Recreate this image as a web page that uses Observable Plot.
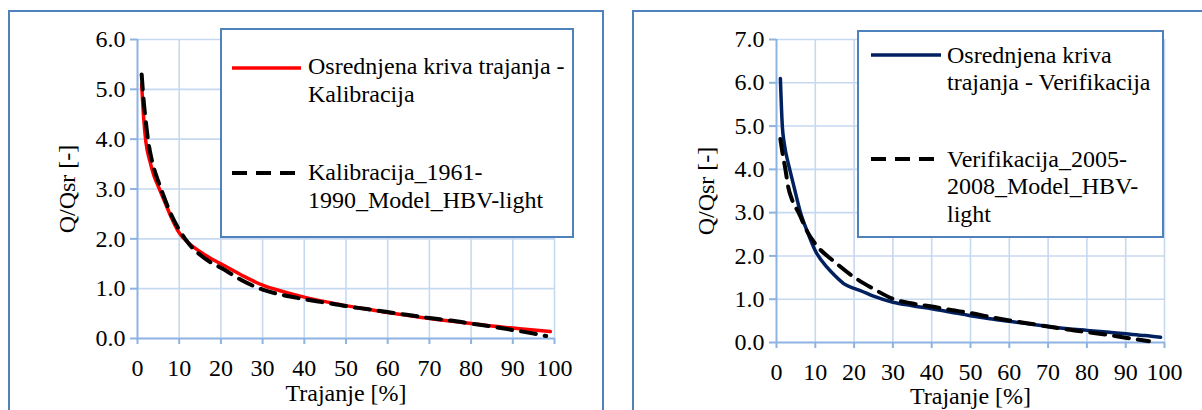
<!DOCTYPE html>
<html>
<head>
<meta charset="utf-8">
<script src="https://cdn.jsdelivr.net/npm/d3@7"></script>
<script src="https://cdn.jsdelivr.net/npm/@observablehq/plot@0.6"></script>
<style>
  html, body { margin: 0; padding: 0; background: #fff; }
  #root { position: relative; width: 1202px; height: 410px; overflow: hidden; background: #fff;
          font-family: 'Liberation Serif', 'Times New Roman', 'Tinos', 'DejaVu Serif', serif; color: #000; }
  .frame { position: absolute; border: 2px solid #4f81bd; box-sizing: border-box; }
  .plot { position: absolute; }
  .legend { position: absolute; border: 2px solid #4f81bd; background: #fff; box-sizing: border-box; }
  .ltext { position: absolute; font-size: 24px; line-height: 27.7px; white-space: nowrap; }
  .lsym { position: absolute; overflow: visible; }
  svg.plot text { font-family: 'Liberation Serif', 'Times New Roman', 'Tinos', 'DejaVu Serif', serif; }
</style>
</head>
<body>
<div id="root"></div>
<script>
// ---------- data ----------
const xTicks = [0, 10, 20, 30, 40, 50, 60, 70, 80, 90, 100];
const yTicksCal = [0, 1, 2, 3, 4, 5, 6];
const yTicksVer = [0, 1, 2, 3, 4, 5, 6, 7];
const xLabel = "Trajanje [%]";
const yLabel = "Q/Qsr [-]";

// Kalibracija: averaged duration curve (red)
const durCalAvg = [1, 1.5, 2, 3, 4, 5, 6.5, 8, 10, 12.5, 15, 17.5, 20, 25, 30, 35, 40, 45, 50, 55, 60, 65, 70, 75, 80, 85, 90, 95, 99];
const qCalAvg   = [5.1, 4.4, 3.95, 3.55, 3.25, 3.05, 2.75, 2.45, 2.12, 1.9, 1.74, 1.61, 1.5, 1.27, 1.07, 0.94, 0.83, 0.74, 0.66, 0.59, 0.52, 0.46, 0.40, 0.35, 0.30, 0.25, 0.21, 0.17, 0.14];
// Kalibracija 1961-1990 model HBV-light (dashed)
const durCalMod = [1, 1.5, 2, 2.5, 3, 4, 5, 6, 8, 10, 12.5, 15, 17.5, 20, 25, 30, 35, 40, 45, 50, 55, 60, 65, 70, 75, 80, 85, 90, 95, 98];
const qCalMod   = [5.3, 4.75, 4.35, 4.0, 3.75, 3.4, 3.15, 2.92, 2.5, 2.18, 1.88, 1.68, 1.53, 1.42, 1.17, 0.98, 0.87, 0.79, 0.72, 0.65, 0.59, 0.53, 0.47, 0.41, 0.36, 0.30, 0.24, 0.17, 0.10, 0.05];

// Verifikacija: averaged duration curve (navy)
const durVerAvg = [1, 1.5, 2, 3, 3.4, 4.5, 6.2, 8, 10, 13, 15, 17.3, 20, 21.6, 25, 30, 35, 40, 45, 50, 55, 60, 65, 70, 75, 80, 85, 90, 95, 99];
const qVerAvg   = [6.1, 5.0, 4.6, 4.15, 4.0, 3.6, 3.0, 2.55, 2.12, 1.74, 1.55, 1.36, 1.25, 1.2, 1.07, 0.93, 0.85, 0.78, 0.70, 0.62, 0.55, 0.49, 0.43, 0.37, 0.32, 0.28, 0.24, 0.20, 0.16, 0.12];
// Verifikacija 2005-2008 model HBV-light (dashed)
const durVerMod = [1, 1.5, 2.3, 3, 4, 5.7, 8, 10, 15, 20, 25, 30, 35, 40, 45, 50, 55, 60, 65, 70, 75, 80, 85, 90, 96];
const qVerMod   = [4.7, 4.4, 4.0, 3.6, 3.3, 3.0, 2.55, 2.28, 1.86, 1.51, 1.24, 1.01, 0.9, 0.83, 0.75, 0.68, 0.59, 0.51, 0.44, 0.37, 0.30, 0.24, 0.18, 0.11, 0.03];

const legendCal = [
  {label: ["Osrednjena kriva trajanja -", "Kalibracija"], color: "#ff0000", dash: null},
  {label: ["Kalibracija_1961-", "1990_Model_HBV-light"], color: "#000000", dash: "15,9"}
];
const legendVer = [
  {label: ["Osrednjena kriva", "trajanja - Verifikacija"], color: "#002060", dash: null},
  {label: ["Verifikacija_2005-", "2008_Model_HBV-", "light"], color: "#000000", dash: "15,9"}
];

// ---------- styles ----------
const gridColor = "#c6d9f1";
const axisColor = "#8db3e2";
const fontFam = "'Liberation Serif', 'Times New Roman', 'Tinos', 'DejaVu Serif', serif";

const root = document.getElementById("root");

function addDiv(cls, css) {
  const d = document.createElement("div");
  d.className = cls;
  Object.assign(d.style, css);
  root.appendChild(d);
  return d;
}

function makeChart({left, top, width, height, ml, mr, mt, mb, yTicks, series, xLabelDy}) {
  const yMax = yTicks[yTicks.length - 1];
  const marks = [
    Plot.ruleX(xTicks.slice(1), {stroke: gridColor, strokeWidth: 1.6}),
    Plot.ruleY(yTicks.slice(1), {stroke: gridColor, strokeWidth: 1.6}),
    Plot.ruleX([0], {stroke: axisColor, strokeWidth: 2}),
    Plot.ruleY([0], {stroke: axisColor, strokeWidth: 2}),
    Plot.axisX({ticks: xTicks, tickSize: 6, tickPadding: 14, stroke: axisColor, strokeWidth: 2, fill: "#000", tickFormat: d => String(d), label: null}),
    Plot.axisY({ticks: yTicks, tickSize: 7, tickPadding: 5, stroke: axisColor, strokeWidth: 2, fill: "#000", tickFormat: d => d.toFixed(1), label: null}),
    Plot.text([xLabel], {frameAnchor: "bottom", dy: xLabelDy, lineAnchor: "middle", textAnchor: "middle", fill: "#000"}),
    Plot.text([yLabel], {frameAnchor: "left", dx: -70, rotate: -90, lineAnchor: "middle", textAnchor: "middle", fill: "#000"})
  ];
  for (const s of series) {
    const data = s.x.map((x, i) => ({x, y: s.y[i]}));
    marks.push(Plot.line(data, {x: "x", y: "y", stroke: s.color, strokeWidth: s.width,
      strokeDasharray: s.dash || undefined, curve: "monotone-x"}));
  }
  const chart = Plot.plot({
    width, height,
    marginLeft: ml, marginRight: mr, marginTop: mt, marginBottom: mb,
    x: {domain: [0, 100], axis: null},
    y: {domain: [0, yMax], axis: null},
    style: {fontFamily: fontFam, fontSize: "24px", background: "transparent", overflow: "visible"},
    marks
  });
  chart.classList.add("plot");
  chart.style.left = left + "px";
  chart.style.top = top + "px";
  root.appendChild(chart);
}

function makeLegend({box, entries}) {
  addDiv("legend", {left: box.left + "px", top: box.top + "px", width: box.width + "px", height: box.height + "px"});
  for (const e of entries) {
    const ns = "http://www.w3.org/2000/svg";
    const svg = document.createElementNS(ns, "svg");
    svg.setAttribute("class", "lsym");
    svg.setAttribute("width", e.x2 - e.x1);
    svg.setAttribute("height", 10);
    svg.style.left = e.x1 + "px";
    svg.style.top = (e.y - 5) + "px";
    const ln = document.createElementNS(ns, "line");
    ln.setAttribute("x1", 0); ln.setAttribute("x2", e.x2 - e.x1);
    ln.setAttribute("y1", 5); ln.setAttribute("y2", 5);
    ln.setAttribute("stroke", e.item.color);
    ln.setAttribute("stroke-width", e.item.dash ? 4 : 3.5);
    if (e.item.dash) ln.setAttribute("stroke-dasharray", e.item.dash);
    svg.appendChild(ln);
    root.appendChild(svg);
    const t = addDiv("ltext", {left: e.tx + "px", top: e.ty + "px"});
    t.innerHTML = e.item.label.map(s => s.replace(/&/g, "&amp;").replace(/</g, "&lt;")).join("<br>");
  }
}

// frames
addDiv("frame", {left: "8px", top: "10px", width: "596px", height: "420px"});
addDiv("frame", {left: "632px", top: "10px", width: "600px", height: "420px"});

// left chart (Kalibracija)
makeChart({
  left: 8, top: 10, width: 595, height: 400, ml: 129, mr: 49, mt: 29, mb: 72,
  yTicks: yTicksCal, xLabelDy: 55,
  series: [
    {x: durCalAvg, y: qCalAvg, color: "#ff0000", width: 3.5},
    {x: durCalMod, y: qCalMod, color: "#000000", width: 4, dash: "15,9"}
  ]
});
// right chart (Verifikacija)
makeChart({
  left: 633, top: 10, width: 569, height: 400, ml: 143, mr: 38, mt: 29, mb: 68,
  yTicks: yTicksVer, xLabelDy: 54,
  series: [
    {x: durVerAvg, y: qVerAvg, color: "#002060", width: 3.5},
    {x: durVerMod, y: qVerMod, color: "#000000", width: 4, dash: "15,9"}
  ]
});

makeLegend({
  box: {left: 220, top: 28, width: 354, height: 210},
  entries: [
    {item: legendCal[0], x1: 232, x2: 301, y: 68, tx: 308, ty: 53},
    {item: legendCal[1], x1: 232, x2: 301, y: 173, tx: 308, ty: 159}
  ]
});
makeLegend({
  box: {left: 857, top: 30, width: 307, height: 208},
  entries: [
    {item: legendVer[0], x1: 871, x2: 941, y: 55, tx: 947, ty: 41.5},
    {item: legendVer[1], x1: 871, x2: 941, y: 159, tx: 947, ty: 145.5}
  ]
});
</script>
</body>
</html>
